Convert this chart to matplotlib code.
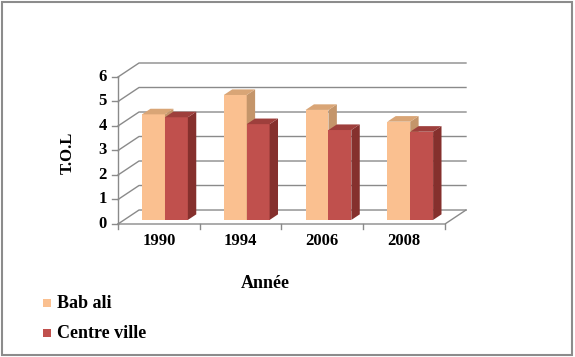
import matplotlib
matplotlib.use("Agg")
import matplotlib.pyplot as plt
from matplotlib.patches import Polygon, Rectangle

# Data
years = ["1990", "1994", "2006", "2008"]
bab_ali = [4.31, 5.10, 4.49, 4.01]
centre_ville = [4.19, 3.91, 3.67, 3.60]
series_names = ["Bab ali", "Centre ville"]
yticks = [0, 1, 2, 3, 4, 5, 6]

# colours: front, top, side
colors = {
    "Bab ali": ("#FAC090", "#D9A576", "#C4956A"),
    "Centre ville": ("#C0504D", "#9E3F3C", "#85302D"),
}

plt.rcParams['font.family'] = ['Liberation Serif', 'DejaVu Serif']
plt.rcParams['font.weight'] = 'bold'

fig = plt.figure(figsize=(5.75, 3.57), dpi=100)
W, H = 575, 357

# axes placed in pixel terms
ax = fig.add_axes([118 / W, (H - 224) / H, 348 / W, 161 / H])

# oblique depth of the 3D box, in data units
ddx, ddy = 0.257, 0.571
ymax = 6
ax.set_xlim(-0.5, len(years) - 0.5 + ddx)
ax.set_ylim(0, ymax + ddy)
ax.axis('off')

grid_c = "#8A8A8A"
x0, x1 = -0.5, len(years) - 0.5

# gridlines: front slant + back wall
for v in yticks:
    ax.plot([x0, x0 + ddx, x1 + ddx], [v, v + ddy, v + ddy],
            color=grid_c, lw=1, clip_on=False, zorder=1)
    # left tick marks
    ax.plot([x0 - 0.07, x0], [v, v], color=grid_c, lw=1, clip_on=False, zorder=1)
    ax.annotate(str(v), (x0, v), xytext=(-8, 0), textcoords='offset points',
                ha='right', va='center', fontsize=12, fontweight='bold')

# front left axis and floor outline
ax.plot([x0, x0], [0, ymax], color=grid_c, lw=1, clip_on=False, zorder=1)
ax.plot([x0, x1, x1 + ddx], [0, 0, ddy], color=grid_c, lw=1, clip_on=False, zorder=1)

# x tick marks at category boundaries and year labels
for i in range(len(years) + 1):
    ax.plot([x0 + i, x0 + i], [0, -0.22], color=grid_c, lw=1, clip_on=False, zorder=1)
for i, yr in enumerate(years):
    ax.annotate(yr, (i, 0), xytext=(0, -12), textcoords='offset points',
                ha='center', va='center', fontsize=12, fontweight='bold')

# 3D bars
bw = 0.28
f = 0.29   # how far back the bar front sits
d = 0.40   # bar depth as a fraction of the box depth
sx, sy = f * ddx, f * ddy
px, py = d * ddx, d * ddy

z = 3
for i in range(len(years)):
    for k, (name, vals) in enumerate(zip(series_names, [bab_ali, centre_ville])):
        front, top_c, side_c = colors[name]
        left = i - bw + k * bw + sx
        right = left + bw
        base = sy
        top = sy + vals[i]
        ax.bar(left, vals[i], width=bw, bottom=base, align='edge',
               color=front, zorder=z, clip_on=False)
        ax.add_patch(Polygon([(right, base), (right + px, base + py),
                              (right + px, top + py), (right, top)],
                             closed=True, facecolor=side_c, edgecolor='none',
                             zorder=z, clip_on=False))
        ax.add_patch(Polygon([(left, top), (right, top),
                              (right + px, top + py), (left + px, top + py)],
                             closed=True, facecolor=top_c, edgecolor='none',
                             zorder=z, clip_on=False))
        z += 1

# axis titles
fig.text(68 / W, 1 - 153 / H, "T.O.L", rotation=90, ha='center', va='center',
         fontsize=12, fontweight='bold')
fig.text(265 / W, 1 - 283 / H, "Année", ha='center', va='center',
         fontsize=13, fontweight='bold')

# legend
for name, yy in zip(series_names, [303, 333]):
    fig.patches.append(Rectangle((43 / W, 1 - (yy + 4) / H), 8 / W, 8 / H,
                                 transform=fig.transFigure,
                                 facecolor=colors[name][0], edgecolor='none'))
    fig.text(57 / W, 1 - yy / H, name, ha='left', va='center',
             fontsize=13, fontweight='bold')

# outer frame
fig.patches.append(Rectangle((2 / W, 2 / H), 570 / W, 353 / H,
                             transform=fig.transFigure, fill=False,
                             edgecolor="#8C8C8C", lw=1.5))

fig.savefig("out.png", dpi=100)
